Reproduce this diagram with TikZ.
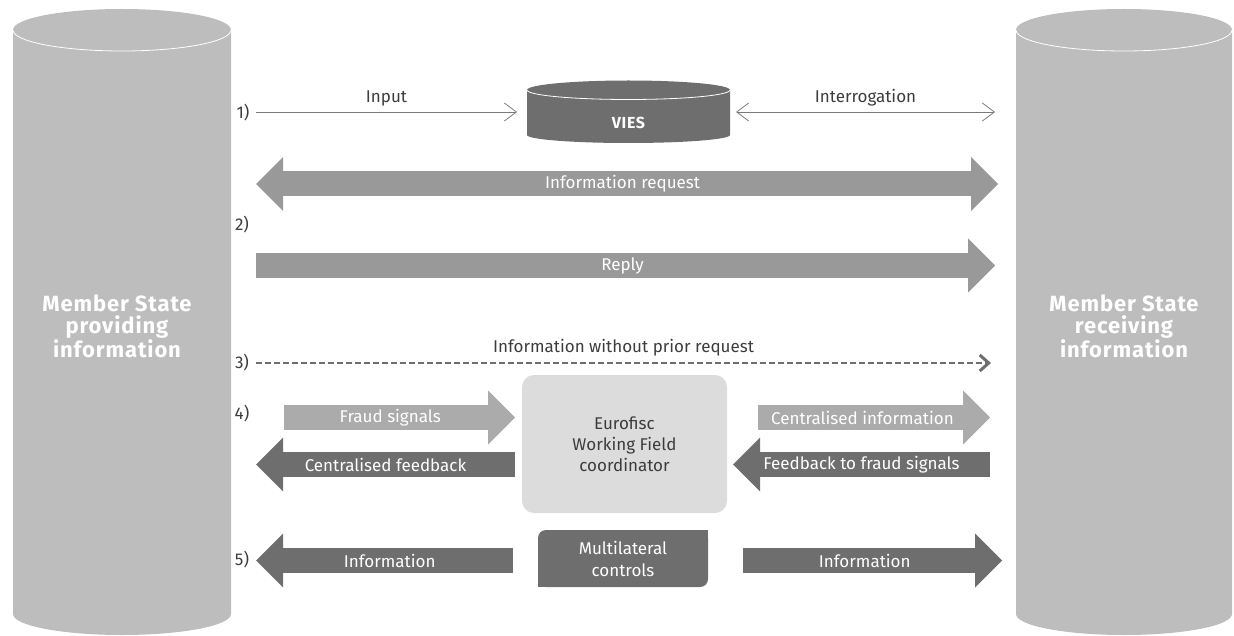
\documentclass[tikz,border=0pt]{standalone}
\usepackage{fontspec}
\setmainfont{Fira Sans}
\newfontfamily\wideBold[LetterSpace=4]{Fira Sans Bold}
\usetikzlibrary{arrows.meta}
\definecolor{ink}{HTML}{3C3C3C}
\definecolor{msGray}{HTML}{BDBDBD}
\definecolor{midGray}{HTML}{999999}
\definecolor{lightGray}{HTML}{ABABAB}
\definecolor{darkGray}{HTML}{6E6E6E}
\definecolor{boxGray}{HTML}{DCDCDC}
\definecolor{lineGray}{HTML}{7A7A7A}
\tikzset{
  lab/.style={text=ink, font=\fontsize{17}{21}\selectfont},
  wlab/.style={text=white, font=\fontsize{17}{21}\selectfont},
  msLab/.style={text=white, font=\wideBold\fontsize{22}{22.5}\selectfont, align=center},
  thinArrow/.style={draw=lineGray, line width=0.8pt, -{Straight Barb[length=12pt,width=18pt]}},
  thinBoth/.style={draw=lineGray, line width=0.8pt, {Straight Barb[length=12pt,width=18pt]}-{Straight Barb[length=12pt,width=18pt]}},
  dashArrow/.style={draw=darkGray, line width=2pt, dash pattern=on 6pt off 3pt, -{Straight Barb[length=9pt,width=16pt,line width=3pt]}},
  fatArrow/.style={line width=25pt, -{Triangle[length=27pt,width=54pt,line width=0pt]}},
  fatBoth/.style={line width=25pt, {Triangle[length=27pt,width=54pt,line width=0pt]}-{Triangle[length=27pt,width=54pt,line width=0pt]}}
}

\begin{document}
\begin{tikzpicture}[x=1pt,y=-1pt]
\useasboundingbox (0,0) rectangle (1234,636);

% providing side
\fill[msGray] (13,30) -- (13,614) arc[start angle=180,end angle=0,x radius=109,y radius=21]
  -- (231,30) arc[start angle=0,end angle=-180,x radius=109,y radius=21] -- cycle;
\draw[white, line width=0.8pt] (13,30) arc[start angle=180,end angle=0,x radius=109,y radius=21];
\node[msLab] (provider) at (117,326) {Member State\\providing\\information};

% receiving side
\fill[msGray] (1016,30) -- (1016,614) arc[start angle=180,end angle=0,x radius=108,y radius=21]
  -- (1232,30) arc[start angle=0,end angle=-180,x radius=108,y radius=21] -- cycle;
\draw[white, line width=0.8pt] (1016,30) arc[start angle=180,end angle=0,x radius=108,y radius=21];
\node[msLab] (receiver) at (1124,326) {Member State\\receiving\\information};

% VIES
\fill[darkGray] (527,90) -- (527,135) arc[start angle=180,end angle=0,x radius=101.5,y radius=8]
  -- (730,90) arc[start angle=0,end angle=-180,x radius=101.5,y radius=9.5] -- cycle;
\draw[white, line width=0.8pt] (527,90) arc[start angle=180,end angle=0,x radius=101.5,y radius=9.5];
\node[text=white, font=\wideBold\fontsize{16}{18}\selectfont] (vies) at (628.5,123) {VIES};

% step numbers
\node[lab] (n1) at (243,113) {1)};
\node[lab] (n2) at (242,225) {2)};
\node[lab] (n3) at (242,363) {3)};
\node[lab] (n4) at (242,414) {4)};
\node[lab] (n5) at (242,560) {5)};

% 1)
\coordinate (inS) at (256,112);
\coordinate (inE) at (517,112);
\coordinate (qS) at (736,112);
\coordinate (qE) at (995,112);
\draw[thinArrow] (inS) -- (inE) node[lab, midway, above=2pt] {Input};
\draw[thinBoth] (qS) -- (qE) node[lab, midway, above=2pt] {Interrogation};

% 2)
\coordinate (reqS) at (256,184);
\coordinate (reqE) at (998,184);
\coordinate (repS) at (256,265.5);
\coordinate (repE) at (995,265.5);
\draw[fatBoth, draw=midGray] (reqS) -- (reqE) node[wlab, pos=0.494] {Information request};
\draw[fatArrow, draw=midGray] (repS) -- (repE) node[wlab, pos=0.496] {Reply};

% 3)
\coordinate (noS) at (256,363);
\coordinate (noE) at (991,363);
\draw[dashArrow] (noS) -- (noE) node[lab, midway, above=3pt] {Information without prior request};

% 4)
\node[lab, fill=boxGray, rounded corners=12pt, minimum width=205pt, minimum height=138pt, align=center] (eurofisc) at (624.5,444) {Eurofisc\\Working Field\\coordinator};
\coordinate (fsS) at (284,417.5);
\coordinate (fsE) at (515,417.5);
\coordinate (cfS) at (515,464.5);
\coordinate (cfE) at (256,464.5);
\coordinate (ciS) at (758,417.5);
\coordinate (ciE) at (990,417.5);
\coordinate (fbS) at (990,464.5);
\coordinate (fbE) at (733,464.5);
\draw[fatArrow, draw=lightGray] (fsS) -- (fsE) node[wlab, pos=0.46] {Fraud signals};
\draw[fatArrow, draw=darkGray] (cfS) -- (cfE) node[wlab, pos=0.5] {Centralised feedback};
\draw[fatArrow, draw=lightGray] (ciS) -- (ciE) node[wlab, pos=0.45] {Centralised information};
\draw[fatArrow, draw=darkGray] (fbS) -- (fbE) node[wlab, pos=0.5] {Feedback to fraud signals};

% 5)
\fill[darkGray, rounded corners=8pt] (538,530) rectangle (708,587);
\fill[darkGray] (700,530) rectangle (708,538);
\fill[darkGray] (538,579) rectangle (546,587);
\node[wlab, align=center, font=\fontsize{17}{22}\selectfont] (multi) at (623,558.5) {Multilateral\\controls};
\coordinate (ilS) at (513,560.5);
\coordinate (ilE) at (256,560.5);
\coordinate (irS) at (743,560.5);
\coordinate (irE) at (1002,560.5);
\draw[fatArrow, draw=darkGray] (ilS) -- (ilE) node[wlab, pos=0.48] {Information};
\draw[fatArrow, draw=darkGray] (irS) -- (irE) node[wlab, pos=0.47] {Information};
\end{tikzpicture}
\end{document}
